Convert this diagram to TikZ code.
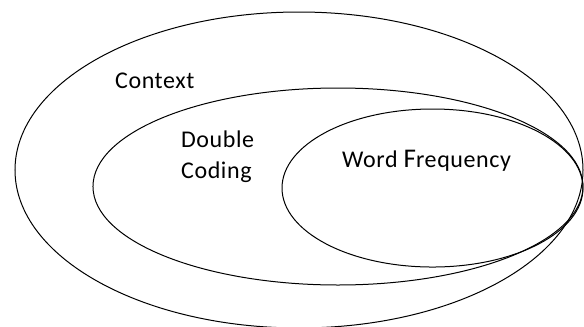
\documentclass[tikz,border=0pt]{standalone}
\usepackage{fontspec}
\setmainfont{Carlito}[LetterSpace=2.5]
\usepackage{tikz}
\usetikzlibrary{calc}

\begin{document}
\begin{tikzpicture}
\useasboundingbox (0,0) rectangle (20.526,11.493); %page size
\tikzset{ring/.style={line width=1pt},
         lbl/.style={anchor=base west,inner sep=0pt,font=\fontsize{24}{24}\selectfont}}

\draw[ring] (10.509,5.518) ellipse (9.982 and 5.553); %context
\draw[ring] (11.879,4.938) ellipse (8.611 and 3.462); %double coding
\draw[ring] (15.201,4.885) ellipse (5.289 and 2.777); %word frequency

\node[lbl] (context) at (4.04,8.365) {Context}; %outer label
\node[lbl] (double) at (6.36,6.326) {Double}; %middle label
\node[lbl] (coding) at (6.36,5.219) {Coding};
\node[lbl] (wordfreq) at (12.02,5.623) {Word {\fontsize{27}{27}\selectfont F}requency}; %inner label
\end{tikzpicture}
\end{document}
